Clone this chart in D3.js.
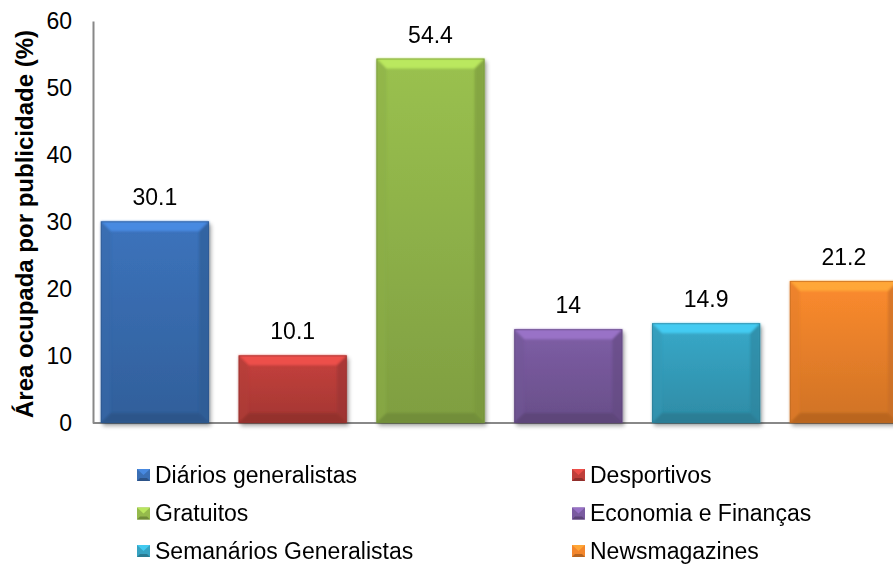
<!DOCTYPE html>
<html>
<head>
<meta charset="utf-8">
<script src="https://cdn.jsdelivr.net/npm/d3@7"></script>
<style>
  html, body { margin: 0; padding: 0; background: #fff; }
  svg { display: block; }
  text { font-family: "Liberation Sans", Arial, sans-serif; fill: #000; }
</style>
</head>
<body>
<svg id="chart" width="893" height="564"></svg>
<script>
// Share of page area taken by advertising, by press segment
const categories = ["Diários generalistas", "Desportivos", "Gratuitos", "Economia e Finanças", "Semanários Generalistas", "Newsmagazines"];
const values = [30.1, 10.1, 54.4, 14, 14.9, 21.2];
const yTicks = [0, 10, 20, 30, 40, 50, 60];
const baseColors = ["#3a6fb5", "#bf3f3b", "#95ba4c", "#7a5ba0", "#36a3c2", "#f3862c"];
const yTitle = "Área ocupada por publicidade (%)";

const svg = d3.select("#chart");
const W = 893, H = 564;
const FS = 23;

const y = d3.scaleLinear().domain([0, 60]).range([423, 21]);
const x = d3.scaleBand().domain(categories).range([86, 86 + 6 * 137.8]).paddingInner(0.215).paddingOuter(0.1075);

const defs = svg.append("defs");

// soft shadow under the bars
const sh = defs.append("filter").attr("id", "shadow").attr("x", "-10%").attr("y", "-10%").attr("width", "130%").attr("height", "130%");
sh.append("feGaussianBlur").attr("in", "SourceAlpha").attr("stdDeviation", 2.2);
sh.append("feOffset").attr("dx", 1.5).attr("dy", 3).attr("result", "off");
sh.append("feComponentTransfer").append("feFuncA").attr("type", "linear").attr("slope", 0.35);
const m = sh.append("feMerge");
m.append("feMergeNode");
m.append("feMergeNode").attr("in", "SourceGraphic");

// slight blur for the bevel facets
defs.append("filter").attr("id", "soft").append("feGaussianBlur").attr("stdDeviation", 0.8);

baseColors.forEach((c, i) => {
  const g = defs.append("linearGradient").attr("id", "grad" + i).attr("x1", 0).attr("y1", 0).attr("x2", 0).attr("y2", 1);
  g.append("stop").attr("offset", "0%").attr("stop-color", d3.color(c).brighter(0.1));
  g.append("stop").attr("offset", "100%").attr("stop-color", d3.color(c).darker(0.45));
});

// y axis
const yAxis = d3.axisLeft(y).tickValues(yTicks).tickSize(0).tickPadding(21);
const gy = svg.append("g").attr("transform", "translate(93,0)").call(yAxis);
gy.select(".domain").attr("stroke", "#888").attr("stroke-width", 2);
gy.selectAll("text").attr("font-size", FS).attr("font-family", "Liberation Sans, Arial, sans-serif").attr("fill", "#000");

// baseline
svg.append("line").attr("x1", 93).attr("x2", W).attr("y1", y(0)).attr("y2", y(0)).attr("stroke", "#888").attr("stroke-width", 2);

// y title
svg.append("text")
  .attr("transform", `translate(33,${(y(0) + y(60)) / 2 + 2}) rotate(-90)`)
  .attr("text-anchor", "middle")
  .attr("font-size", 24)
  .attr("font-weight", "bold")
  .text(yTitle);

// bevelled bar
function bevelBar(g, x0, y0, w, h, i, b) {
  const c = baseColors[i];
  g.append("rect").attr("x", x0).attr("y", y0).attr("width", w).attr("height", h)
    .attr("fill", `url(#grad${i})`).attr("filter", "url(#shadow)");
  const bb = Math.min(b, h / 2, w / 2);
  const facets = g.append("g").attr("filter", "url(#soft)");
  const poly = (pts, fill, op) => facets.append("polygon").attr("points", pts.map(p => p.join(",")).join(" ")).attr("fill", fill).attr("opacity", op);
  // top bevel (light)
  poly([[x0, y0], [x0 + w, y0], [x0 + w - bb, y0 + bb], [x0 + bb, y0 + bb]], d3.color(c).brighter(0.7), 0.85);
  // left bevel
  poly([[x0, y0], [x0 + bb, y0 + bb], [x0 + bb, y0 + h - bb], [x0, y0 + h]], d3.color(c).darker(0.2), 0.5);
  // right bevel
  poly([[x0 + w, y0], [x0 + w, y0 + h], [x0 + w - bb, y0 + h - bb], [x0 + w - bb, y0 + bb]], d3.color(c).darker(0.6), 0.6);
  // bottom bevel (dark)
  poly([[x0, y0 + h], [x0 + bb, y0 + h - bb], [x0 + w - bb, y0 + h - bb], [x0 + w, y0 + h]], d3.color(c).darker(0.9), 0.7);
  // thin edge
  g.append("rect").attr("x", x0 + 0.5).attr("y", y0 + 0.5).attr("width", w - 1).attr("height", h - 1)
    .attr("fill", "none").attr("stroke", d3.color(c).darker(0.9)).attr("stroke-width", 1).attr("opacity", 0.5);
}

const bars = svg.append("g");
categories.forEach((cat, i) => {
  const x0 = x(cat), w = x.bandwidth();
  const y0 = y(values[i]), h = y(0) - y(values[i]);
  bevelBar(bars.append("g"), x0, y0, w, h, i, 10);
});

// value labels
svg.append("g").selectAll("text").data(categories).join("text")
  .attr("x", d => x(d) + x.bandwidth() / 2)
  .attr("y", (d, i) => y(values[i]) - 16)
  .attr("text-anchor", "middle")
  .attr("font-size", FS)
  .text((d, i) => String(values[i]));

// legend, two columns
const legendCols = [137, 572];
const legendRows = [475, 513.5, 551];
const lg = svg.append("g");
categories.forEach((cat, i) => {
  const lx = legendCols[i % 2], ly = legendRows[Math.floor(i / 2)];
  const g = lg.append("g");
  const sw = 13, s = 12;
  const c = baseColors[i];
  const t = ly - s / 2, b2 = 3;
  g.append("rect").attr("x", lx).attr("y", t).attr("width", sw).attr("height", s).attr("fill", c);
  const poly = (pts, fill) => g.append("polygon").attr("points", pts.map(p => p.join(",")).join(" ")).attr("fill", fill);
  poly([[lx, t], [lx + sw, t], [lx + sw / 2, t + s / 2]], d3.color(c).brighter(0.6));
  poly([[lx, t + s], [lx + sw, t + s], [lx + sw - b2, t + s - b2], [lx + b2, t + s - b2]], d3.color(c).darker(0.8));
  g.append("text").attr("x", lx + 18).attr("y", ly).attr("dy", "0.34em").attr("font-size", FS).text(cat);
});
</script>
</body>
</html>
